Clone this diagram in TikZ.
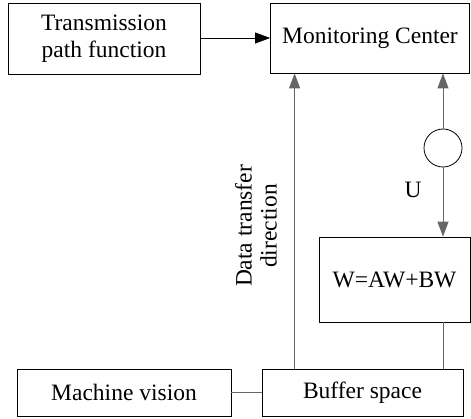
\documentclass[tikz,border=0pt]{standalone}
\usepackage{fontspec}
\setmainfont{Liberation Serif}
\usetikzlibrary{arrows.meta,positioning}

\begin{document}
\begin{tikzpicture}[x=1pt,y=-1pt]
	\tikzset{block/.style={draw,line width=0.8pt,inner sep=0pt,align=center,font=\fontsize{23.5}{27}\selectfont},
		link/.style={draw=black!60,line width=1pt},
		flow/.style={link,-{Triangle[width=11pt,length=15pt]}}}
	\useasboundingbox (0,0) rectangle (471,419);

	%% boxes
	\node[block,minimum width=192pt,minimum height=71pt] (trans) at (104,38.5) {Transmission\\path function};
	\node[block,minimum width=199pt,minimum height=70pt] (monitor) at (370,38) {Monitoring Center};
	\node[block,minimum width=151pt,minimum height=85pt] (wbox) at (394.5,279.5) {W=AW+BW};
	\node[block,minimum width=214pt,minimum height=47pt] (vision) at (124,392.5) {Machine vision};
	\node[block,minimum width=201pt,minimum height=47pt] (buffer) at (362.5,392.5) {Buffer space};
	\node[draw,circle,line width=0.8pt,minimum size=38pt,inner sep=0pt] (node) at (443,148) {};

	%% labels
	\node[font=\fontsize{23.5}{27}\selectfont] (ulabel) at (413,190) {U};
	\node[rotate=90,align=center,font=\fontsize{23.5}{25}\selectfont] (dlabel) at (256,226) {Data transfer\\direction};

	%% connectors
	\draw[flow,draw=black,line width=0.8pt] (trans.east |- monitor.west) -- (monitor.west);
	\draw[flow] (buffer.north west) ++(33,0) coordinate (b1) -- (b1 |- monitor.south);
	\draw[flow] (node.north) -- (node.north |- monitor.south);
	\draw[flow] (node.south) -- (node.south |- wbox.north);
	\draw[link] (wbox.south -| node) -- (buffer.north -| node);
	\draw[link] (vision.east) -- (buffer.west);
\end{tikzpicture}
\end{document}
